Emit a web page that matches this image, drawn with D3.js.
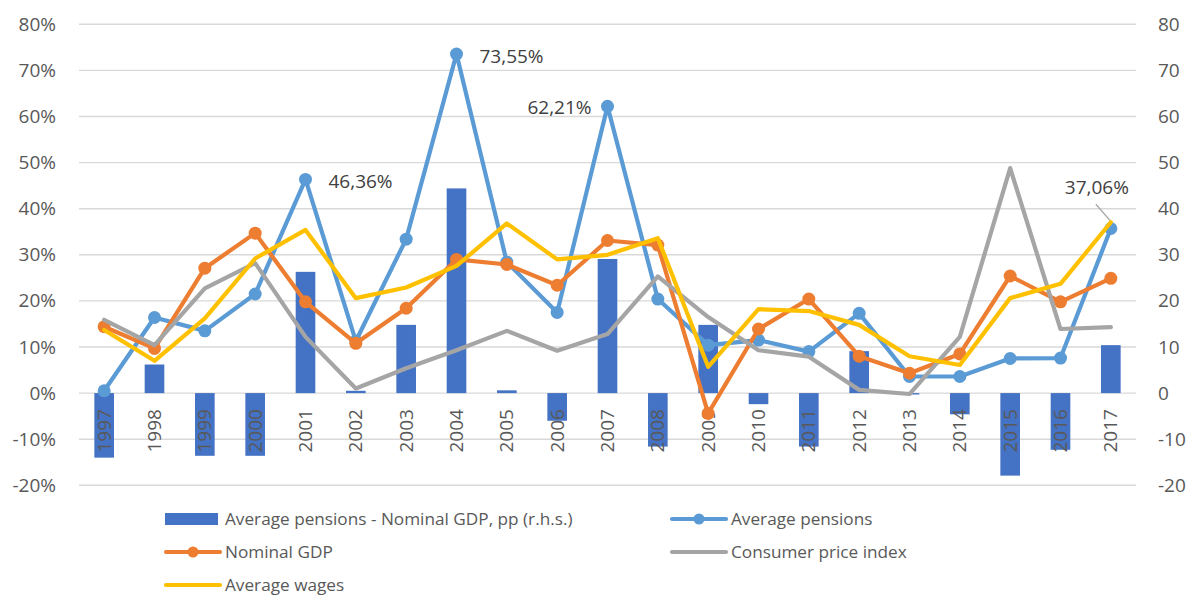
<!DOCTYPE html>
<html lang="en">
<head>
<meta charset="UTF-8">
<title>Pensions vs GDP</title>
<script src="https://d3js.org/d3.v7.min.js"></script>
<style>
  body { margin: 0; padding: 0; background: #fff; }
  svg { display: block; font-family: "Open Sans", sans-serif; }
</style>
</head>
<body>
<div id="chart"></div>
<script>
// years on the x axis
const years = ["1997","1998","1999","2000","2001","2002","2003","2004","2005","2006","2007",
               "2008","2009","2010","2011","2012","2013","2014","2015","2016","2017"];

// bars: average pensions - nominal GDP, pp (right axis)
const gapPP = [-14.0, 6.2, -13.6, -13.6, 26.3, 0.5, 14.8, 44.4, 0.6, -6.0, 29.1,
               -11.6, 14.8, -2.4, -11.6, 9.1, -0.3, -4.6, -17.9, -12.3, 10.4];

// lines, % (left axis)
const pensions = [0.5, 16.4, 13.5, 21.5, 46.36, 11.3, 33.4, 73.55, 28.4, 17.5, 62.21,
                  20.4, 10.4, 11.5, 9.0, 17.3, 3.6, 3.6, 7.5, 7.6, 35.7];
const nominalGdp = [14.4, 9.7, 27.1, 34.7, 19.8, 10.8, 18.4, 29.0, 27.9, 23.4, 33.1,
                    32.1, -4.4, 13.9, 20.4, 8.0, 4.3, 8.5, 25.4, 19.8, 24.9];
const cpi = [15.9, 10.4, 22.7, 28.2, 12.2, 1.0, 5.4, 9.3, 13.5, 9.2, 12.8,
             25.3, 16.5, 9.3, 7.9, 0.7, -0.2, 12.2, 48.8, 13.9, 14.3];
const wages = [13.7, 7.0, 16.2, 29.2, 35.4, 20.6, 22.9, 27.6, 36.8, 29.0, 30.0,
               33.6, 5.7, 18.2, 17.8, 14.8, 8.0, 6.1, 20.6, 23.7, 37.06];

const leftTicks = [80, 70, 60, 50, 40, 30, 20, 10, 0, -10, -20];
const rightTicks = [80, 70, 60, 50, 40, 30, 20, 10, 0, -10, -20];

// point labels: [series, year index, text]
const callouts = [
  ["pensions", 4, "46,36%"],
  ["pensions", 7, "73,55%"],
  ["pensions", 10, "62,21%"],
  ["wages", 20, "37,06%"]
];

const W = 1196, H = 595;
const plot = {left: 79, right: 1136, top: 24.3, bottom: 485.3};

const svg = d3.select("#chart").append("svg")
    .attr("width", W)
    .attr("height", H);

const x = d3.scaleBand().domain(years).range([plot.left, plot.right]).padding(0);
const yL = d3.scaleLinear().domain([-20, 80]).range([plot.bottom, plot.top]);
const yR = d3.scaleLinear().domain([-20, 80]).range([plot.bottom, plot.top]);
const cx = d => x(d) + x.bandwidth() / 2;

// gridlines
svg.append("g").selectAll("line")
    .data(leftTicks).enter().append("line")
    .attr("x1", plot.left).attr("x2", plot.right)
    .attr("y1", d => yL(d)).attr("y2", d => yL(d))
    .attr("stroke", "#d9d9d9").attr("stroke-width", 1.4);

// left axis labels
const leftAxis = svg.append("g")
    .attr("transform", `translate(${plot.left},0)`)
    .call(d3.axisLeft(yL).tickValues(leftTicks).tickSize(0).tickPadding(23).tickFormat(d => d + "%"));
leftAxis.select(".domain").remove();
leftAxis.selectAll("text").attr("fill", "#595959").style("font-size", "19px").style("font-family", "Open Sans");

// right axis labels
const rightAxis = svg.append("g")
    .attr("transform", `translate(${plot.right},0)`)
    .call(d3.axisRight(yR).tickValues(rightTicks).tickSize(0).tickPadding(22).tickFormat(d => d));
rightAxis.select(".domain").remove();
rightAxis.selectAll("text").attr("fill", "#595959").style("font-size", "19px").style("font-family", "Open Sans");

// bars
const barW = x.bandwidth() * 0.39;
svg.append("g").selectAll("rect")
    .data(years).enter().append("rect")
    .attr("x", d => cx(d) - barW / 2)
    .attr("width", barW)
    .attr("y", (d, i) => yR(Math.max(0, gapPP[i])))
    .attr("height", (d, i) => Math.abs(yR(gapPP[i]) - yR(0)))
    .attr("fill", "#4472c4");

// year labels, rotated
svg.append("g").selectAll("text")
    .data(years).enter().append("text")
    .attr("transform", d => `translate(${cx(d)},${yL(0) + 16}) rotate(-90)`)
    .attr("text-anchor", "end")
    .attr("dy", "0.35em")
    .attr("fill", "#595959")
    .style("font-size", "19px")
    .text(d => d);

const series = [
  {key: "pensions", values: pensions, color: "#5b9bd5", marker: true},
  {key: "gdp", values: nominalGdp, color: "#ed7d31", marker: true},
  {key: "cpi", values: cpi, color: "#a5a5a5", marker: false},
  {key: "wages", values: wages, color: "#ffc000", marker: false}
];

const line = d3.line()
    .x((d, i) => cx(years[i]))
    .y(d => yL(d));

series.forEach(s => {
  const g = svg.append("g");
  g.append("path")
      .datum(s.values)
      .attr("d", line)
      .attr("fill", "none")
      .attr("stroke", s.color)
      .attr("stroke-width", 4.2)
      .attr("stroke-linejoin", "round")
      .attr("stroke-linecap", "round");
  if (s.marker) {
    g.selectAll("circle")
        .data(s.values).enter().append("circle")
        .attr("cx", (d, i) => cx(years[i]))
        .attr("cy", d => yL(d))
        .attr("r", 6.5)
        .attr("fill", s.color);
  }
});

// callouts
const seriesByKey = {pensions: pensions, wages: wages};
callouts.forEach(([key, i, txt]) => {
  const px = cx(years[i]), py = yL(seriesByKey[key][i]);
  const t = svg.append("text")
      .attr("fill", "#404040")
      .style("font-size", "19px")
      .attr("dy", "0.35em")
      .text(txt);
  if (i === 10) {
    t.attr("x", px - 16).attr("y", py + 1).attr("text-anchor", "end");
  } else if (i === 20) {
    t.attr("x", px - 14).attr("y", py - 35).attr("text-anchor", "middle");
    svg.append("line")
        .attr("x1", px - 15).attr("y1", py - 18)
        .attr("x2", px - 1).attr("y2", py - 2)
        .attr("stroke", "#a5a5a5").attr("stroke-width", 1.2);
  } else {
    t.attr("x", px + 23).attr("y", py + 2).attr("text-anchor", "start");
  }
});

// legend
const legendItems = [
  {label: "Average pensions - Nominal GDP, pp (r.h.s.)", type: "bar", color: "#4472c4", x: 165, y: 519},
  {label: "Average pensions", type: "marker", color: "#5b9bd5", x: 671, y: 519},
  {label: "Nominal GDP", type: "marker", color: "#ed7d31", x: 165, y: 552},
  {label: "Consumer price index", type: "line", color: "#a5a5a5", x: 671, y: 552},
  {label: "Average wages", type: "line", color: "#ffc000", x: 165, y: 585}
];
const lg = svg.append("g");
legendItems.forEach(it => {
  if (it.type === "bar") {
    lg.append("rect").attr("x", it.x).attr("y", it.y - 6).attr("width", 53).attr("height", 12).attr("fill", it.color);
  } else {
    lg.append("line").attr("x1", it.x + 1).attr("x2", it.x + 55)
        .attr("y1", it.y).attr("y2", it.y)
        .attr("stroke", it.color).attr("stroke-width", 4.2).attr("stroke-linecap", "round");
    if (it.type === "marker") {
      lg.append("circle").attr("cx", it.x + 28).attr("cy", it.y).attr("r", 5.5).attr("fill", it.color);
    }
  }
  lg.append("text")
      .attr("x", it.x + 60)
      .attr("y", it.y)
      .attr("dy", "0.35em")
      .attr("fill", "#595959")
      .style("font-size", "17.2px")
      .text(it.label);
});
</script>
</body>
</html>
